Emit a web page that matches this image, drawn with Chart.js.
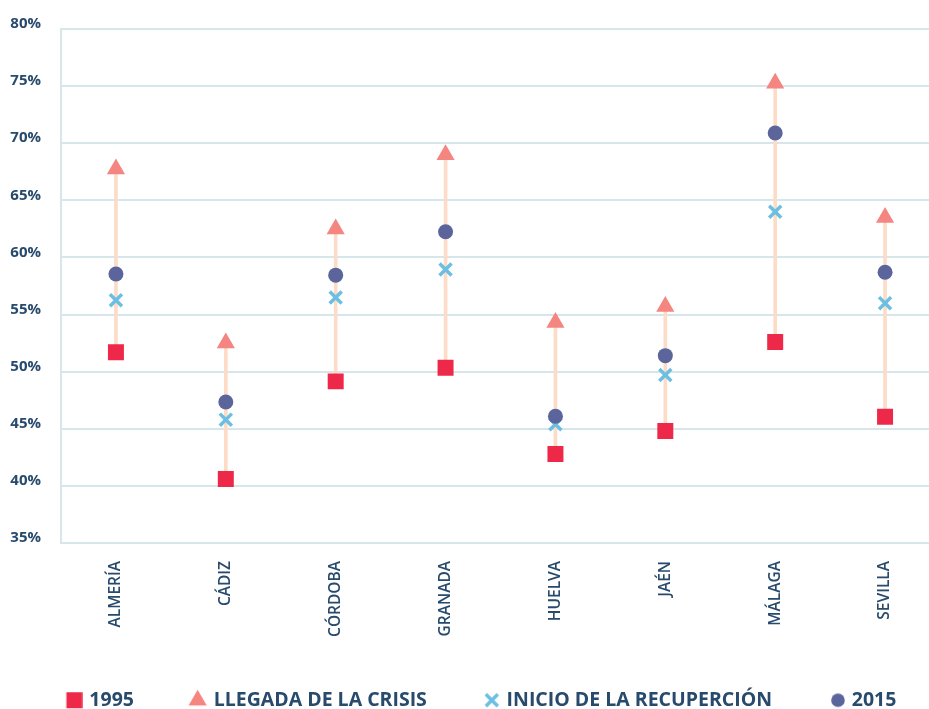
<!DOCTYPE html>
<html>
<head>
<meta charset="utf-8">
<script src="https://cdn.jsdelivr.net/npm/chart.js@4.4.1/dist/chart.umd.min.js"></script>
<style>
    html, body { margin: 0; padding: 0; background: #ffffff; overflow: hidden; }
    #wrap { position: absolute; left: 0; top: 0; width: 941px; height: 709px; }
</style>
</head>
<body>
<div id="wrap"><canvas id="provChart"></canvas></div>
<script>
/*global Chart, document*/
var provincias = ['ALMERÍA', 'CÁDIZ', 'CÓRDOBA', 'GRANADA', 'HUELVA', 'JAÉN', 'MÁLAGA', 'SEVILLA'];

var valores1995        = [51.7, 40.6, 49.15, 50.35, 42.8, 44.8, 52.6, 46.05];
var llegadaCrisis      = [67.75, 52.5, 62.5, 69.0, 54.3, 55.7, 75.25, 63.5];
var inicioRecuperacion = [56.25, 45.8, 56.5, 58.95, 45.4, 49.7, 64.0, 56.0];
var valores2015        = [58.55, 47.35, 58.45, 62.25, 46.1, 51.4, 70.9, 58.7];

var ejeY = { min: 35, max: 80, paso: 5 };

var textColor = '#274a6d';
var gridColor = '#d6e6ea';

var rojo    = '#ee2848',
    salmon  = '#f48580',
    celeste = '#6cbfe2',
    azul    = '#5b659b';

// rango 1995 -> llegada de la crisis, dibujado como barra flotante fina
var rangos = provincias.map(function (p, i) {
    return [valores1995[i], llegadaCrisis[i]];
});

// iconos de la leyenda, dibujados con el propio helper de Chart.js;
// el simbolo va pegado al lado derecho de la caja, junto al texto
var cajaLeyenda = 36;
function icono(estilo, radio, color, borde, mitad) {
    var c = document.createElement('canvas');
    c.width = cajaLeyenda + 6;
    c.height = 24;
    var g = c.getContext('2d');
    g.fillStyle = color;
    g.strokeStyle = color;
    g.lineWidth = borde;
    Chart.helpers.drawPoint(g, { pointStyle: estilo, radius: radio, borderWidth: borde }, c.width - 0.25 - mitad, 12);
    return c;
}

var iconosLeyenda = [
    icono('rect', 11.3, rojo, 0, 8),
    icono('triangle', 10.5, salmon, 0, 9.1),
    icono('crossRot', 8.5, celeste, 3.5, 7.8),
    icono('circle', 6.8, azul, 0, 6.8)
];

var ctx = document.getElementById('provChart');

var provChart = new Chart(ctx, {
    type: 'bar',
    data: {
        labels: provincias,
        datasets: [
            {
                type: 'line',
                label: '1995',
                data: valores1995,
                showLine: false,
                pointStyle: 'rect',
                pointRadius: 11.3,
                pointBackgroundColor: rojo,
                pointBorderColor: rojo,
                pointBorderWidth: 0,
                backgroundColor: rojo,
                borderColor: rojo,
                order: 4
            },
            {
                type: 'line',
                label: 'LLEGADA DE LA CRISIS',
                data: llegadaCrisis,
                showLine: false,
                pointStyle: 'triangle',
                pointRadius: 10.5,
                pointBackgroundColor: salmon,
                pointBorderColor: salmon,
                pointBorderWidth: 0,
                backgroundColor: salmon,
                borderColor: salmon,
                order: 3
            },
            {
                type: 'line',
                label: 'INICIO DE LA RECUPERCIÓN',
                data: inicioRecuperacion,
                showLine: false,
                pointStyle: 'crossRot',
                pointRadius: 8.5,
                pointBorderWidth: 3.5,
                pointBorderColor: celeste,
                pointBackgroundColor: celeste,
                backgroundColor: celeste,
                borderColor: celeste,
                order: 2
            },
            {
                type: 'line',
                label: '2015',
                data: valores2015,
                showLine: false,
                pointStyle: 'circle',
                pointRadius: 7.5,
                pointBackgroundColor: azul,
                pointBorderColor: azul,
                pointBorderWidth: 0,
                backgroundColor: azul,
                borderColor: azul,
                order: 1
            },
            {
                type: 'bar',
                label: 'rango',
                data: rangos,
                backgroundColor: '#fcdcc6',
                borderWidth: 0,
                barThickness: 3,
                order: 10
            }
        ]
    },
    options: {
        responsive: true,
        maintainAspectRatio: false,
        animation: false,
        layout: {
            autoPadding: false,
            padding: { left: 0, right: 1, top: 19, bottom: -11 }
        },
        plugins: {
            tooltip: { enabled: false },
            legend: {
                position: 'bottom',
                labels: {
                    usePointStyle: true,
                    pointStyleWidth: cajaLeyenda,
                    boxHeight: 16,
                    padding: 34,
                    color: textColor,
                    font: { family: 'Open Sans', size: 19.5, weight: 'bold' },
                    sort: function (a, b) {
                        return a.datasetIndex - b.datasetIndex;
                    },
                    filter: function (item) {
                        return item.text !== 'rango';
                    },
                    generateLabels: function (chart) {
                        var items = Chart.defaults.plugins.legend.labels.generateLabels(chart);
                        items.forEach(function (it) {
                            if (it.datasetIndex < iconosLeyenda.length) {
                                it.pointStyle = iconosLeyenda[it.datasetIndex];
                            }
                        });
                        return items;
                    }
                }
            }
        },
        scales: {
            x: {
                offset: true,
                grid: { display: false, drawTicks: false },
                border: { display: false },
                afterFit: function (scale) {
                    scale.paddingLeft = 0;
                    scale.paddingRight = 0;
                    scale.height = 113.5;
                },
                ticks: {
                    minRotation: 90,
                    maxRotation: 90,
                    padding: 18,
                    color: textColor,
                    font: { family: 'Open Sans', size: 15.5, weight: '600' }
                }
            },
            y: {
                min: ejeY.min,
                max: ejeY.max,
                grid: { color: gridColor, lineWidth: 2, drawTicks: false },
                border: { display: true, color: gridColor, width: 2 },
                afterFit: function (scale) {
                    scale.width = 61;
                },
                ticks: {
                    stepSize: ejeY.paso,
                    padding: 20,
                    labelOffset: -5,
                    color: textColor,
                    font: { family: 'Open Sans', size: 15, weight: 'bold' },
                    callback: function (v) { return v + '%'; }
                }
            }
        }
    }
});
</script>
</body>
</html>
